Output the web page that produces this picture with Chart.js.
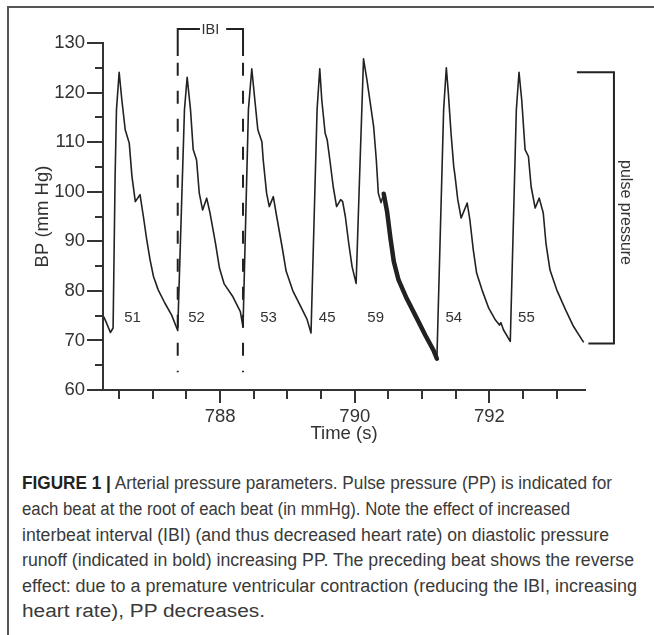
<!DOCTYPE html>
<html><head><meta charset="utf-8">
<script src="https://cdn.jsdelivr.net/npm/chart.js@4.4.1/dist/chart.umd.min.js"></script>
<style>
html,body{margin:0;padding:0;background:#fff;}
body{width:654px;height:635px;position:relative;overflow:hidden;font-family:'Liberation Sans',Arial,sans-serif;}
#frame{position:absolute;left:7px;top:6px;width:700px;height:700px;border-top:2px solid #555;border-left:2px solid #555;box-sizing:border-box;}
#wrap{position:absolute;left:0;top:0;width:654px;height:455px;}
#caption{position:absolute;left:22px;top:0;color:#3a3a3a;font-size:18px;}
.ln{position:absolute;left:0;white-space:nowrap;transform-origin:0 50%;line-height:26px;height:26px;}
.ln b{color:#222;}
</style></head>
<body>
<div id="frame"></div>
<div id="wrap"><canvas id="c" width="654" height="455"></canvas></div>
<div id="caption">
<div class="ln"><b>FIGURE 1 |</b> Arterial pressure parameters. Pulse pressure (PP) is indicated for</div>
<div class="ln">each beat at the root of each beat (in mmHg). Note the effect of increased</div>
<div class="ln">interbeat interval (IBI) (and thus decreased heart rate) on diastolic pressure</div>
<div class="ln">runoff (indicated in bold) increasing PP. The preceding beat shows the reverse</div>
<div class="ln">effect: due to a premature ventricular contraction (reducing the IBI, increasing</div>
<div class="ln">heart rate), PP decreases.</div>
</div>
<script>
// ---- data ----
const timeS = [786.27,786.31,786.37,786.41,786.44,786.46,786.50,786.54,786.59,786.65,786.69,786.74,786.81,786.86,786.91,786.96,787.01,787.08,787.18,787.28,787.37,
787.47,787.51,787.56,787.60,787.65,787.69,787.74,787.80,787.85,787.93,787.99,788.06,788.19,788.30,788.34,
788.42,788.47,788.52,788.56,788.62,788.64,788.69,788.73,788.79,788.84,788.92,788.98,789.08,789.19,789.29,789.35,
789.44,789.48,789.51,789.56,789.59,789.63,789.68,789.73,789.79,789.82,789.86,789.91,789.96,790.02,
790.07,790.13,790.18,790.23,790.28,790.32,790.35,790.39,790.43,790.48,790.53,790.58,790.65,790.77,790.92,791.05,791.17,791.22,
791.32,791.36,791.39,791.43,791.47,791.49,791.53,791.58,791.67,791.71,791.76,791.81,791.89,791.99,792.09,792.15,792.17,792.21,792.31,
792.40,792.44,792.48,792.53,792.58,792.62,792.68,792.74,792.80,792.84,792.90,793.00,793.13,793.25,793.40];
const bpMmHg = [74.8,73.6,71.6,72.5,103.1,116.5,124.1,118.5,112.5,109.8,103.1,98.0,99.4,95.0,90.3,86.2,82.9,80.2,77.5,75.1,72.0,
116.5,123.1,116.5,108.5,106.4,99.7,96.3,98.7,95.7,89.7,84.6,81.4,78.8,75.8,72.7,
116.5,124.8,117.9,112.5,110.1,106.4,99.7,97.0,99.0,95.0,88.9,84.0,80.0,77.0,74.3,71.5,
116.5,124.8,118.5,111.8,110.5,106.4,101.0,97.0,98.4,98.0,95.0,89.6,84.9,81.5,
102.4,126.8,122.6,117.9,113.2,106.4,99.7,97.8,99.6,96.0,90.6,85.9,82.2,78.5,74.5,71.0,68.0,66.3,
116.5,125.0,119.9,111.8,105.1,103.1,98.4,94.7,97.7,94.3,88.3,83.6,80.2,76.5,74.1,73.1,73.6,72.1,69.8,
116.5,124.1,118.5,108.5,107.1,101.0,96.7,98.7,95.7,89.6,84.2,80.2,76.2,72.8,69.6];
// diastolic runoff in bold (beat 59)
const boldTimeS = [790.43,790.48,790.53,790.58,790.65,790.77,790.92,791.05,791.17,791.22];
const boldBpMmHg = [99.6,96.0,90.6,85.9,82.2,78.5,74.5,71.0,68.0,66.3];
// pulse pressure per beat (mmHg) and where each number sits
const ppValues = [51,52,53,45,59,54,55];
const ppLabelTimeS = [786.70,787.65,788.72,789.59,790.31,791.47,792.55];
const ppLabelBp = 74.6;
// IBI markers
const ibiTimesS = [787.37,788.34];
const ibiDashBp = [63.6,126.0];
const ibiBracketBp = [127.4,132.8];
const ibiGapS = [787.70,788.09];
// pulse pressure bracket
const ppBracketTimeS = [793.30,793.85,793.47];
const ppBracketBp = [124.1,69.4];
const ppTextTimeS = 794.02;
const ppTextBp = 95.8;
// axes
const xRange = [786.26,793.42];
const yRange = [60,130];
const xMajorTicks = [788,790,792];
const xMinorTicks = [786.5,787,787.5,788.5,789,789.5,790.5,791,791.5,792.5,793];
const yMajorTicks = [60,70,80,90,100,110,120,130];
const yMinorTicks = [65,75,85,95,105,115,125];

const FONT = "'Liberation Sans', Arial, sans-serif";
const INK = '#333';
const pts = (xs, ys) => xs.map((t,i)=>({x:t,y:ys[i]}));

const base = {pointRadius:0, pointHoverRadius:0, tension:0, fill:false, xAxisID:'x', yAxisID:'y', borderColor:'#222', borderJoinStyle:'round', borderCapStyle:'butt'};

const datasets = [
  Object.assign({}, base, {data: pts(timeS,bpMmHg), borderWidth:1.6}),
  Object.assign({}, base, {data: pts(boldTimeS,boldBpMmHg), borderWidth:4.5, borderCapStyle:'round'}),
  Object.assign({}, base, {data:[{x:ibiTimesS[0],y:ibiDashBp[1]},{x:ibiTimesS[0],y:ibiDashBp[0]}], borderWidth:2, borderDash:[13,15], clip:false}),
  Object.assign({}, base, {data:[{x:ibiTimesS[1],y:ibiDashBp[1]},{x:ibiTimesS[1],y:ibiDashBp[0]}], borderWidth:2, borderDash:[13,15], clip:false}),
  Object.assign({}, base, {data:[
      {x:ibiTimesS[0],y:ibiBracketBp[0]},{x:ibiTimesS[0],y:ibiBracketBp[1]},{x:ibiGapS[0],y:ibiBracketBp[1]},
      {x:(ibiGapS[0]+ibiGapS[1])/2,y:null},
      {x:ibiGapS[1],y:ibiBracketBp[1]},{x:ibiTimesS[1],y:ibiBracketBp[1]},{x:ibiTimesS[1],y:ibiBracketBp[0]}],
      borderWidth:2, spanGaps:false, clip:false, borderJoinStyle:'miter'}),
  Object.assign({}, base, {data:[
      {x:ppBracketTimeS[0],y:ppBracketBp[0]},{x:ppBracketTimeS[1],y:ppBracketBp[0]},
      {x:ppBracketTimeS[1],y:ppBracketBp[1]},{x:ppBracketTimeS[2],y:ppBracketBp[1]}],
      borderWidth:2, clip:false, borderJoinStyle:'miter'})
];

const annot = {
  id:'annot',
  afterDatasetsDraw(chart){
    const {ctx} = chart; const x = chart.scales.x, y = chart.scales.y;
    ctx.save();
    ctx.fillStyle = INK; ctx.textAlign='center'; ctx.textBaseline='middle';
    ctx.font = "15px " + FONT;
    ppValues.forEach((v,i)=>ctx.fillText(String(v), x.getPixelForValue(ppLabelTimeS[i]), y.getPixelForValue(ppLabelBp)));
    ctx.font = "14.5px " + FONT;
    ctx.fillText('IBI', x.getPixelForValue((ibiTimesS[0]+ibiTimesS[1])/2), y.getPixelForValue(ibiBracketBp[1])+0.5);
    ctx.translate(x.getPixelForValue(ppTextTimeS), y.getPixelForValue(ppTextBp));
    ctx.rotate(Math.PI/2);
    ctx.font = "16px " + FONT;
    ctx.fillText('pulse pressure', 0, 0);
    ctx.restore();
  }
};

const tickSetter = arr => s => { s.ticks = arr.map(v=>({value:v})); };

new Chart(document.getElementById('c'), {
  type:'line',
  data:{datasets},
  plugins:[annot],
  options:{
    responsive:false, animation:false, devicePixelRatio:1,
    layout:{padding:{left:0, top:43, right:69, bottom:0}},
    plugins:{legend:{display:false}, tooltip:{enabled:false}},
    scales:{
      x:{type:'linear', axis:'x', position:'bottom', weight:1, min:xRange[0], max:xRange[1],
         afterBuildTicks: tickSetter(xMajorTicks),
         afterFit: s => { s.height = 65; },
         grid:{drawOnChartArea:false, drawTicks:true, tickLength:13, color:INK, lineWidth:2},
         border:{display:true, color:INK, width:2},
         ticks:{padding:3, color:INK, font:{family:FONT, size:18.5}, maxRotation:0, autoSkip:false},
         title:{display:true, text:'Time (s)', color:INK, font:{family:FONT, size:18.5}, padding:{top:0,bottom:10}}},
      xMinor:{type:'linear', axis:'x', position:'bottom', weight:0, min:xRange[0], max:xRange[1],
         afterBuildTicks: tickSetter(xMinorTicks),
         afterFit: s => { s.height = 0; },
         grid:{drawOnChartArea:false, drawTicks:true, tickLength:9, color:INK, lineWidth:2},
         border:{display:false},
         ticks:{display:false, autoSkip:false}},
      y:{type:'linear', axis:'y', position:'left', weight:1, min:yRange[0], max:yRange[1],
         afterBuildTicks: tickSetter(yMajorTicks),
         afterFit: s => { s.width = 103; },
         grid:{drawOnChartArea:false, drawTicks:true, tickLength:16, color:INK, lineWidth:2},
         border:{display:true, color:INK, width:2},
         ticks:{padding:2, color:INK, font:{family:FONT, size:18.5}, autoSkip:false},
         title:{display:true, text:'BP (mm Hg)', color:INK, font:{family:FONT, size:18.5}, padding:{top:32,bottom:0}}},
      yMinor:{type:'linear', axis:'y', position:'left', weight:0, min:yRange[0], max:yRange[1],
         afterBuildTicks: tickSetter(yMinorTicks),
         afterFit: s => { s.width = 0; },
         grid:{drawOnChartArea:false, drawTicks:true, tickLength:8, color:INK, lineWidth:2},
         border:{display:false},
         ticks:{display:false, autoSkip:false}}
    }
  }
});

// caption: place lines and fit them to the widths measured on the reference
const capTops = [470,496,522,547,573,598];
const capWidths = [590,548,587,612,615,243];
document.querySelectorAll('#caption .ln').forEach((el,i)=>{
  el.style.top = capTops[i]+'px';
  const w = el.getBoundingClientRect().width;
  el.style.transform = 'scaleX(' + (capWidths[i]/w) + ')';
});
</script>
</body></html>
